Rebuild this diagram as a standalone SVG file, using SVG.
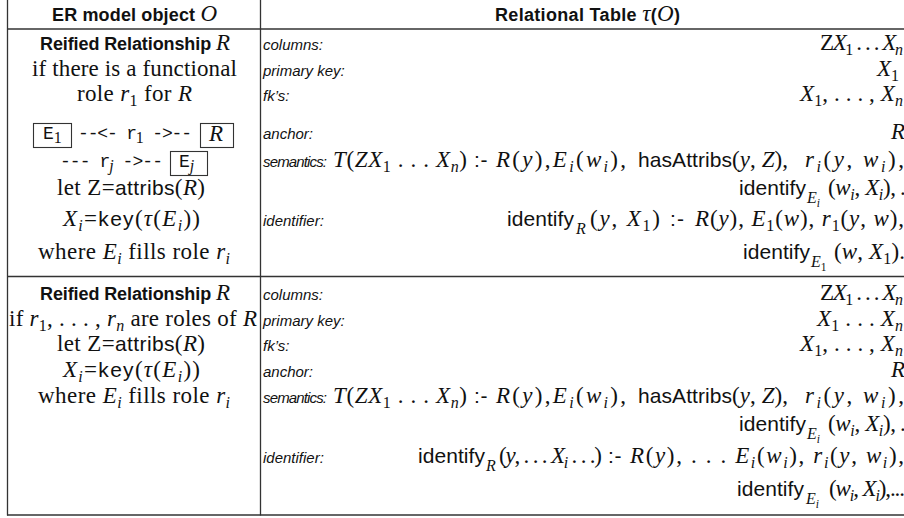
<svg xmlns="http://www.w3.org/2000/svg" width="904" height="518" viewBox="0 0 904 518">
  <style>
    .s { font-family: "Liberation Sans", Arial, sans-serif; font-size: 21px; font-weight: normal; font-style: normal; }
    .h { font-family: "Liberation Sans", Arial, sans-serif; font-size: 18px; font-weight: bold; }
    .lbl { font-family: "Liberation Sans", Arial, sans-serif; font-size: 15px; font-style: italic; }
    .r { font-family: "Liberation Serif", "Times New Roman", serif; font-size: 23px; font-weight: normal; font-style: normal; }
    .t { font-family: "Liberation Mono", "Courier New", monospace; font-size: 18px; font-weight: normal; }
    .i { font-style: italic; font-weight: normal; }
    .up { font-style: normal; }
    .z { font-size: 16px; }
    .zz { font-size: 11.5px; }
    text { fill: #111; }
    .rule { stroke: #333; stroke-width: 1.3; fill: none; }
    .box { stroke: #333; stroke-width: 1.1; fill: none; }
  </style>

  <!-- table rules -->
  <g id="rules">
    <line class="rule" x1="7.5" y1="0" x2="7.5" y2="515.5"/>
    <line class="rule" x1="260.5" y1="0" x2="260.5" y2="515.5"/>
    <line class="rule" x1="7" y1="29" x2="904" y2="29"/>
    <line class="rule" x1="7" y1="276.5" x2="904" y2="276.5"/>
    <line class="rule" x1="7" y1="515" x2="904" y2="515"/>
  </g>

  <!-- header row -->
  <g id="header">
    <text x="52" y="21" textLength="165" class="h">ER model object <tspan class="r i">O</tspan></text>
    <text x="495" y="21" textLength="185" class="h">Relational Table <tspan class="r i">τ</tspan>(<tspan class="r i">O</tspan>)</text>
  </g>

  <!-- row 1, left cell: functional role -->
  <g id="row1-object">
    <text x="40" y="50" textLength="190" class="h">Reified Relationship <tspan class="r i">R</tspan></text>
    <text x="32" y="76" textLength="205" class="r">if there is a functional</text>
    <text x="77" y="101" textLength="115" class="r">role <tspan class="i">r</tspan><tspan class="z" dy="5">1</tspan><tspan dy="-5"> for </tspan><tspan class="i">R</tspan></text>
    <rect class="box" x="33.5" y="123.5" width="38" height="24"/>
    <text x="43" y="139" class="t">E<tspan class="r z" dy="4">1</tspan></text>
    <text x="78" y="139" textLength="114" class="t">--&lt;- r<tspan class="r z" dy="4">1</tspan><tspan dy="-4"> -&gt;--</tspan></text>
    <rect class="box" x="200.5" y="123.5" width="33" height="24"/>
    <text x="209" y="141" class="r i">R</text>
    <text x="60" y="167" textLength="103" class="t">--- r<tspan class="r i z" dy="4">j</tspan><tspan dy="-4"> -&gt;--</tspan></text>
    <rect class="box" x="170.5" y="151.5" width="37" height="24"/>
    <text x="179" y="167" class="t">E<tspan class="r i z" dy="4">j</tspan></text>
    <text x="57" y="195" textLength="148" class="r">let Z=<tspan class="s">attribs</tspan>(<tspan class="i">R</tspan>)</text>
    <text x="63" y="226" textLength="137" class="r"><tspan class="i">X</tspan><tspan class="z i" dy="5">i</tspan><tspan dy="-5">=</tspan><tspan class="s">key</tspan>(<tspan class="i">τ</tspan>(<tspan class="i">E</tspan><tspan class="z i" dy="5">i</tspan><tspan dy="-5">))</tspan></text>
    <text x="38" y="259" textLength="192" class="r">where <tspan class="i">E</tspan><tspan class="z i" dy="5">i</tspan><tspan dy="-5"> fills role </tspan><tspan class="i">r</tspan><tspan class="z i" dy="5">i</tspan></text>
  </g>

  <!-- row 1, right cell -->
  <g id="row1-table">
    <text x="263" y="50" class="lbl">columns:</text>
    <text x="263" y="76" class="lbl">primary key:</text>
    <text x="263" y="101" class="lbl">fk’s:</text>
    <text x="263" y="139" class="lbl">anchor:</text>
    <text x="263" y="167" class="lbl" textLength="64">semantics:</text>
    <text x="263" y="226" class="lbl">identifier:</text>

    <text x="820" y="50" textLength="83" class="r">Z<tspan class="i">X</tspan><tspan class="z" dy="5">1</tspan><tspan dy="-5"> . . . </tspan><tspan class="i">X</tspan><tspan class="z i" dy="5">n</tspan></text>
    <text x="877" y="76" class="r"><tspan class="i">X</tspan><tspan class="z" dy="5">1</tspan></text>
    <text x="800" y="101" textLength="103" class="r"><tspan class="i">X</tspan><tspan class="z" dy="5">1</tspan><tspan dy="-5">, . . . , </tspan><tspan class="i">X</tspan><tspan class="z i" dy="5">n</tspan></text>
    <text x="891" y="139" class="r i">R</text>

    <text x="333" y="167" textLength="134" class="r"><tspan class="i">T</tspan>(<tspan class="i">ZX</tspan><tspan class="z" dy="5">1</tspan><tspan dy="-5"> . . . </tspan><tspan class="i">X</tspan><tspan class="z i" dy="5">n</tspan><tspan dy="-5">)</tspan></text>
    <text x="474" y="167" textLength="13.5" class="s">:-</text>
    <text x="496" y="167" textLength="130" class="r"><tspan class="i">R</tspan>(<tspan class="i">y</tspan>),<tspan class="i">E</tspan><tspan class="z i" dy="5">i</tspan><tspan dy="-5">(</tspan><tspan class="i">w</tspan><tspan class="z i" dy="5">i</tspan><tspan dy="-5">),</tspan></text>
    <text x="638" y="167" textLength="94" class="s">hasAttribs</text>
    <text x="732" y="167" textLength="56" class="r">(<tspan class="i">y</tspan>, <tspan class="i">Z</tspan>),</text>
    <text x="805" y="167" textLength="99" class="r"><tspan class="i">r</tspan><tspan class="z i" dy="5">i</tspan><tspan dy="-5">(</tspan><tspan class="i">y</tspan>, <tspan class="i">w</tspan><tspan class="z i" dy="5">i</tspan><tspan dy="-5">),</tspan></text>

    <text x="739" y="195" textLength="67" class="s">identify</text>
    <text x="807" y="203" class="r i z">E<tspan class="zz" dy="4">i</tspan></text>
    <text x="828" y="195" textLength="68" class="r">(<tspan class="i">w</tspan><tspan class="z i" dy="5">i</tspan><tspan dy="-5">, </tspan><tspan class="i">X</tspan><tspan class="z i" dy="5">i</tspan><tspan dy="-5">),</tspan></text>
    <text x="900" y="195" class="r">. . .</text>

    <text x="507" y="226" textLength="67" class="s">identify</text>
    <text x="576" y="234" class="r i z">R</text>
    <text x="590" y="226" textLength="70" class="r">(<tspan class="i">y</tspan>, <tspan class="i">X</tspan><tspan class="z" dy="5">1</tspan><tspan dy="-5">)</tspan></text>
    <text x="670" y="226" textLength="14" class="s">:-</text>
    <text x="695" y="226" textLength="209" class="r"><tspan class="i">R</tspan>(<tspan class="i">y</tspan>), <tspan class="i">E</tspan><tspan class="z" dy="5">1</tspan><tspan dy="-5">(</tspan><tspan class="i">w</tspan>), <tspan class="i">r</tspan><tspan class="z" dy="5">1</tspan><tspan dy="-5">(</tspan><tspan class="i">y</tspan>, <tspan class="i">w</tspan>),</text>

    <text x="743" y="259" textLength="67" class="s">identify</text>
    <text x="811" y="267" class="r i z">E<tspan class="zz up" dy="4">1</tspan></text>
    <text x="834" y="259" textLength="71" class="r">(<tspan class="i">w</tspan>, <tspan class="i">X</tspan><tspan class="z" dy="5">1</tspan><tspan dy="-5">).</tspan></text>
  </g>

  <!-- row 2, left cell: general case -->
  <g id="row2-object">
    <text x="40" y="300" textLength="190" class="h">Reified Relationship <tspan class="r i">R</tspan></text>
    <text x="9" y="326" textLength="248" class="r">if <tspan class="i">r</tspan><tspan class="z" dy="5">1</tspan><tspan dy="-5">, . . . , </tspan><tspan class="i">r</tspan><tspan class="z i" dy="5">n</tspan><tspan dy="-5"> are roles of </tspan><tspan class="i">R</tspan></text>
    <text x="57" y="351" textLength="148" class="r">let Z=<tspan class="s">attribs</tspan>(<tspan class="i">R</tspan>)</text>
    <text x="63" y="377" textLength="137" class="r"><tspan class="i">X</tspan><tspan class="z i" dy="5">i</tspan><tspan dy="-5">=</tspan><tspan class="s">key</tspan>(<tspan class="i">τ</tspan>(<tspan class="i">E</tspan><tspan class="z i" dy="5">i</tspan><tspan dy="-5">))</tspan></text>
    <text x="38" y="403" textLength="192" class="r">where <tspan class="i">E</tspan><tspan class="z i" dy="5">i</tspan><tspan dy="-5"> fills role </tspan><tspan class="i">r</tspan><tspan class="z i" dy="5">i</tspan></text>
  </g>

  <!-- row 2, right cell -->
  <g id="row2-table">
    <text x="263" y="300" class="lbl">columns:</text>
    <text x="263" y="326" class="lbl">primary key:</text>
    <text x="263" y="351" class="lbl">fk’s:</text>
    <text x="263" y="377" class="lbl">anchor:</text>
    <text x="263" y="403" class="lbl" textLength="64">semantics:</text>
    <text x="263" y="463" class="lbl">identifier:</text>

    <text x="820" y="300" textLength="83" class="r">Z<tspan class="i">X</tspan><tspan class="z" dy="5">1</tspan><tspan dy="-5"> . . . </tspan><tspan class="i">X</tspan><tspan class="z i" dy="5">n</tspan></text>
    <text x="817" y="326" textLength="86" class="r"><tspan class="i">X</tspan><tspan class="z" dy="5">1</tspan><tspan dy="-5"> . . . </tspan><tspan class="i">X</tspan><tspan class="z i" dy="5">n</tspan></text>
    <text x="800" y="351" textLength="103" class="r"><tspan class="i">X</tspan><tspan class="z" dy="5">1</tspan><tspan dy="-5">, . . . , </tspan><tspan class="i">X</tspan><tspan class="z i" dy="5">n</tspan></text>
    <text x="891" y="377" class="r i">R</text>

    <text x="333" y="403" textLength="134" class="r"><tspan class="i">T</tspan>(<tspan class="i">ZX</tspan><tspan class="z" dy="5">1</tspan><tspan dy="-5"> . . . </tspan><tspan class="i">X</tspan><tspan class="z i" dy="5">n</tspan><tspan dy="-5">)</tspan></text>
    <text x="474" y="403" textLength="13.5" class="s">:-</text>
    <text x="496" y="403" textLength="130" class="r"><tspan class="i">R</tspan>(<tspan class="i">y</tspan>),<tspan class="i">E</tspan><tspan class="z i" dy="5">i</tspan><tspan dy="-5">(</tspan><tspan class="i">w</tspan><tspan class="z i" dy="5">i</tspan><tspan dy="-5">),</tspan></text>
    <text x="638" y="403" textLength="94" class="s">hasAttribs</text>
    <text x="732" y="403" textLength="56" class="r">(<tspan class="i">y</tspan>, <tspan class="i">Z</tspan>),</text>
    <text x="805" y="403" textLength="99" class="r"><tspan class="i">r</tspan><tspan class="z i" dy="5">i</tspan><tspan dy="-5">(</tspan><tspan class="i">y</tspan>, <tspan class="i">w</tspan><tspan class="z i" dy="5">i</tspan><tspan dy="-5">),</tspan></text>

    <text x="739" y="431" textLength="67" class="s">identify</text>
    <text x="807" y="439" class="r i z">E<tspan class="zz" dy="4">i</tspan></text>
    <text x="828" y="431" textLength="68" class="r">(<tspan class="i">w</tspan><tspan class="z i" dy="5">i</tspan><tspan dy="-5">, </tspan><tspan class="i">X</tspan><tspan class="z i" dy="5">i</tspan><tspan dy="-5">),</tspan></text>
    <text x="900" y="431" class="r">. . .</text>

    <text x="418" y="463" textLength="67" class="s">identify</text>
    <text x="486" y="471" class="r i z">R</text>
    <text x="499" y="463" textLength="103" class="r">(<tspan class="i">y</tspan>, . . . <tspan class="i">X</tspan><tspan class="z i" dy="5">i</tspan><tspan dy="-5"> . . .)</tspan></text>
    <text x="608" y="463" textLength="13.5" class="s">:-</text>
    <text x="630" y="463" textLength="274" class="r"><tspan class="i">R</tspan>(<tspan class="i">y</tspan>), . . . <tspan class="i">E</tspan><tspan class="z i" dy="5">i</tspan><tspan dy="-5">(</tspan><tspan class="i">w</tspan><tspan class="z i" dy="5">i</tspan><tspan dy="-5">), </tspan><tspan class="i">r</tspan><tspan class="z i" dy="5">i</tspan><tspan dy="-5">(</tspan><tspan class="i">y</tspan>, <tspan class="i">w</tspan><tspan class="z i" dy="5">i</tspan><tspan dy="-5">),</tspan></text>

    <text x="737" y="496" textLength="67" class="s">identify</text>
    <text x="806" y="504" class="r i z">E<tspan class="zz" dy="4">i</tspan></text>
    <text x="829" y="496" textLength="76" class="r">(<tspan class="i">w</tspan><tspan class="z i" dy="5">i</tspan><tspan dy="-5">, </tspan><tspan class="i">X</tspan><tspan class="z i" dy="5">i</tspan><tspan dy="-5">),...</tspan></text>
  </g>
</svg>
